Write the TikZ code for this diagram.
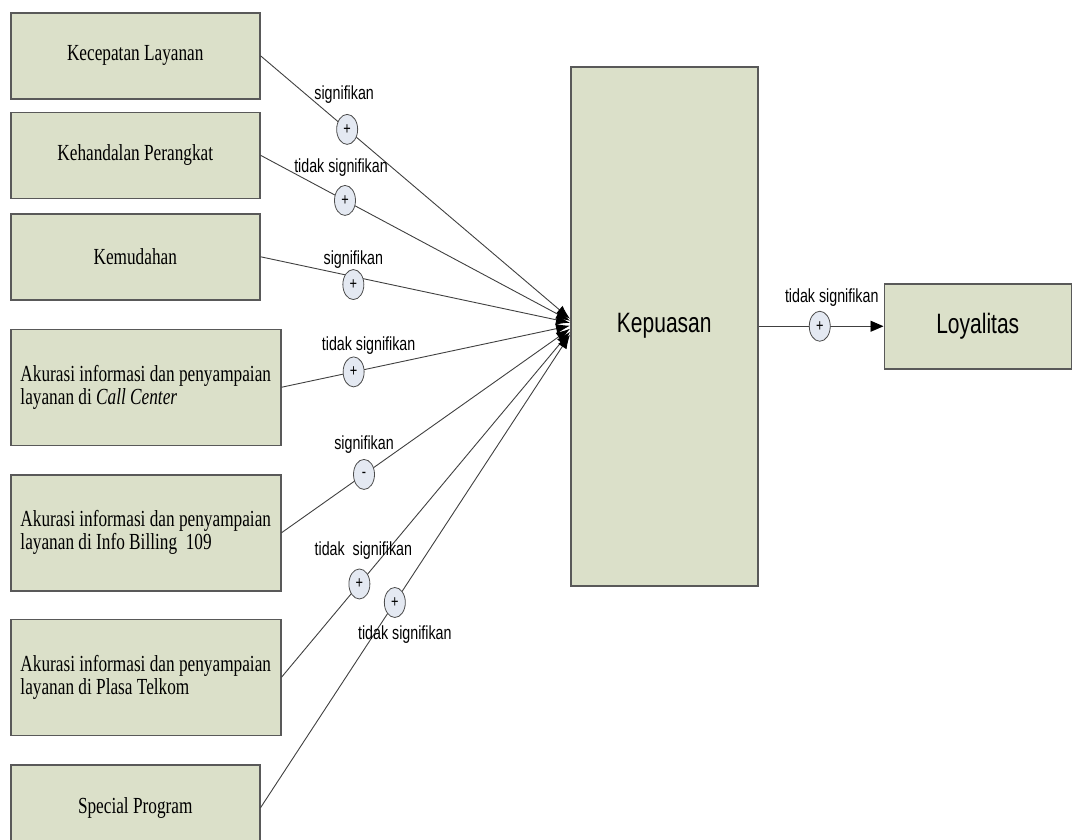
\documentclass[tikz,border=0pt]{standalone}
\usepackage{fontspec}
\setmainfont{Liberation Serif}[FakeStretch=0.75]
\newfontfamily\labelfont{Liberation Sans}[FakeStretch=0.75]
\usetikzlibrary{positioning,shapes.geometric,arrows.meta}
\definecolor{boxfill}{RGB}{219,224,201}
\definecolor{signfill}{RGB}{228,233,242}

\begin{document}
\begin{tikzpicture}[x=1pt, y=-1pt]
\tikzset{
    box/.style={rectangle, draw=black!65, line width=1.5pt, fill=boxfill, minimum width=249pt, minimum height=86pt, align=left, font=\fontsize{23}{23}\selectfont},
    widebox/.style={box, minimum width=270pt, minimum height=116pt},
    bigbox/.style={rectangle, draw=black!65, line width=1.5pt, fill=boxfill, minimum width=187pt, font=\labelfont\fontsize{28}{28}\selectfont},
    sign/.style={ellipse, draw=black!70, line width=0.8pt, fill=signfill, minimum width=21pt, minimum height=30pt, inner sep=0pt, font=\labelfont\fontsize{17}{17}\selectfont},
    lbl/.style={inner sep=0pt, font=\labelfont\fontsize{19}{19}\selectfont},
    link/.style={draw=black!75, line width=0.9pt, -{Latex[length=14pt,width=10pt,color=black]}}
}
\useasboundingbox (0,0) rectangle (1078,839);

% variabel bebas
\node[box, anchor=north west] (speed) at (10,12) {Kecepatan Layanan};
\node[box, below=12pt of speed.south west, anchor=north west] (device) {Kehandalan Perangkat};
\node[box, below=14pt of device.south west, anchor=north west] (ease) {Kemudahan};
\node[widebox, below=28pt of ease.south west, anchor=north west] (callc) {Akurasi informasi dan penyampaian\\layanan di \textit{Call Center}};
\node[widebox, below=28pt of callc.south west, anchor=north west] (billing) {Akurasi informasi dan penyampaian\\layanan di Info Billing~ 109};
\node[widebox, below=27pt of billing.south west, anchor=north west] (plasa) {Akurasi informasi dan penyampaian\\layanan di Plasa Telkom};
\node[box, below=28pt of plasa.south west, anchor=north west] (special) {Special Program};

% kepuasan dan loyalitas
\node[bigbox, minimum height=519pt, anchor=north west] (kep) at (570,66) {Kepuasan};
\node[bigbox, minimum height=85pt, right=125pt of kep] (loy) {Loyalitas};

\draw[link] (speed.east) -- node[sign, pos=0.28] (s1) {+} ([yshift=7.5pt]kep.west);
\draw[link] (device.east) -- node[sign, pos=0.273] (s2) {+} ([yshift=5.5pt]kep.west);
\draw[link] (ease.east) -- node[sign, pos=0.3, yshift=-8pt] (s3) {+} ([yshift=3.5pt]kep.west);
\draw[link] (callc.east) -- node[sign, pos=0.25] (s4) {+} ([yshift=0.5pt]kep.west);
\draw[link] (billing.east) -- node[sign, pos=0.286] (s5) {-} ([yshift=-2.5pt]kep.west);
\draw[link] (plasa.east) -- node[sign, pos=0.27] (s6) {+} ([yshift=-5.5pt]kep.west);
\draw[link] (special.east) -- node[sign, pos=0.434] (s7) {+} ([yshift=-8.5pt]kep.west);
\draw[link, -{Triangle[length=13pt,width=11pt,color=black]}] (kep.east) -- node[sign, pos=0.49] (s8) {+} (loy.west);

\node[lbl, above=10pt of s1, xshift=-3pt] {signifikan};
\node[lbl, above=8pt of s2, xshift=-4pt] {tidak signifikan};
\node[lbl, above=1pt of s3] {signifikan};
\node[lbl, above=2pt of s4, xshift=15pt] {tidak signifikan};
\node[lbl, above=5pt of s5] {signifikan};
\node[lbl, above=9pt of s6, xshift=4pt] {tidak\ \ signifikan};
\node[lbl, below=8pt of s7, xshift=10pt] {tidak signifikan};
\node[lbl, above=4pt of s8, xshift=12pt] {tidak signifikan};
\end{tikzpicture}
\end{document}
